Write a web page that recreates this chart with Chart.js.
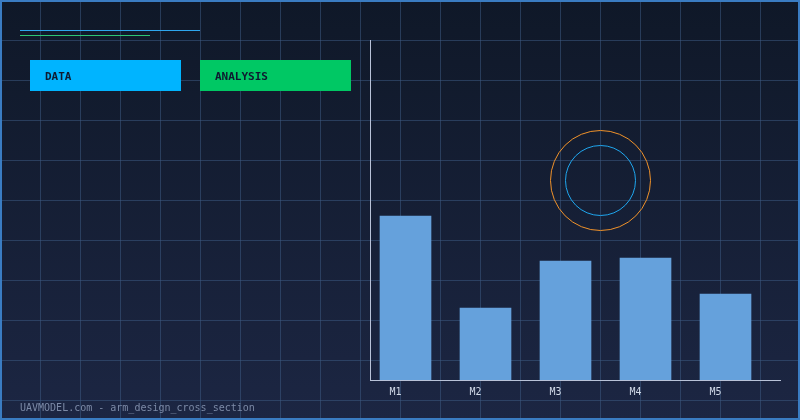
<!DOCTYPE html>
<html>
<head>
<meta charset="utf-8">
<script src="https://cdn.jsdelivr.net/npm/chart.js@4.4.1/dist/chart.umd.min.js"></script>
<style>
html,body{margin:0;padding:0;background:#111a2c;}
#wrap{width:800px;height:420px;position:relative;}
canvas{display:block;}
</style>
</head>
<body>
<div id="wrap"><canvas id="c" width="800" height="420"></canvas></div>
<script>
const categories = ["M1", "M2", "M3", "M4", "M5"];
const values = [82, 36, 59.5, 61, 43];
const tagLabels = ["DATA", "ANALYSIS"];
const footerText = "UAVMODEL.com - arm_design_cross_section";

const MONO = '"DejaVu Sans Mono", "Liberation Mono", monospace';

const backdrop = {
  id: 'backdrop',
  beforeDraw(chart) {
    const ctx = chart.ctx;
    const W = chart.width, H = chart.height;
    ctx.save();
    const g = ctx.createLinearGradient(0, 0, 0, H);
    g.addColorStop(0, '#0f1828');
    g.addColorStop(1, '#1c2643');
    ctx.fillStyle = g;
    ctx.fillRect(0, 0, W, H);
    // grid
    ctx.strokeStyle = 'rgba(60,90,130,0.55)';
    ctx.lineWidth = 1;
    ctx.beginPath();
    for (let x = 40; x < W; x += 40) { ctx.moveTo(x + 0.5, 0); ctx.lineTo(x + 0.5, H); }
    for (let y = 40; y < H; y += 40) { ctx.moveTo(0, y + 0.5); ctx.lineTo(W, y + 0.5); }
    ctx.stroke();
    // decorative lines
    ctx.strokeStyle = '#2ea6ee';
    ctx.beginPath(); ctx.moveTo(20, 30.5); ctx.lineTo(200, 30.5); ctx.stroke();
    ctx.strokeStyle = '#2dc674';
    ctx.beginPath(); ctx.moveTo(20, 35.5); ctx.lineTo(150, 35.5); ctx.stroke();
    // tags
    const tagColors = ['#00b4ff', '#00c864'];
    const tagX = [30, 200];
    ctx.font = 'bold 11px ' + MONO;
    ctx.textBaseline = 'middle';
    tagLabels.forEach((t, i) => {
      ctx.fillStyle = tagColors[i];
      ctx.fillRect(tagX[i], 60, 151, 31);
      ctx.fillStyle = '#0e1a30';
      ctx.fillText(t, tagX[i] + 15, 77);
    });
    // footer
    ctx.font = '10px ' + MONO;
    ctx.fillStyle = '#7c8aa6';
    ctx.fillText(footerText, 20, 408);
    ctx.restore();
  },
  afterDraw(chart) {
    const ctx = chart.ctx;
    ctx.save();
    ctx.lineWidth = 1;
    ctx.strokeStyle = '#f0922a';
    ctx.beginPath(); ctx.arc(600.5, 180.5, 50, 0, Math.PI * 2); ctx.stroke();
    ctx.strokeStyle = '#1fa6ee';
    ctx.beginPath(); ctx.arc(600.5, 180.5, 35, 0, Math.PI * 2); ctx.stroke();
    // frame
    ctx.strokeStyle = '#3a7cc2';
    ctx.lineWidth = 2;
    ctx.strokeRect(1, 1, chart.width - 2, chart.height - 2);
    ctx.restore();
  }
};

new Chart(document.getElementById('c'), {
  type: 'bar',
  data: {
    datasets: [{
      data: values.map((v, i) => ({ x: i, y: v })),
      backgroundColor: '#65a1dc',
      borderWidth: 0,
      barThickness: 51
    }]
  },
  options: {
    responsive: false,
    animation: false,
    devicePixelRatio: 1,
    layout: { padding: { left: 370, top: 40, right: 20, bottom: 20 } },
    plugins: { legend: { display: false }, tooltip: { enabled: false } },
    scales: {
      x: {
        type: 'linear',
        offset: false,
        bounds: 'data',
        min: -0.44375,
        max: 4.68125,
        grid: { display: false, drawTicks: false, offset: false },
        border: { display: true, color: '#b8c2d8', width: 1 },
        afterFit: s => { s.height = 20; },
        afterBuildTicks: s => { s.ticks = categories.map((c, i) => ({ value: i })); },
        ticks: {
          autoSkip: false,
          maxRotation: 0,
          padding: 6,
          labelOffset: -10,
          color: '#d2dae8',
          font: { family: MONO, size: 10 },
          callback: v => categories[v] ?? ''
        }
      },
      y: {
        min: 0,
        max: 170,
        grid: { display: false, drawTicks: false },
        border: { display: true, color: '#b8c2d8', width: 1 },
        afterFit: s => { s.width = 0; },
        ticks: { display: false }
      }
    }
  },
  plugins: [backdrop]
});
</script>
</body>
</html>
